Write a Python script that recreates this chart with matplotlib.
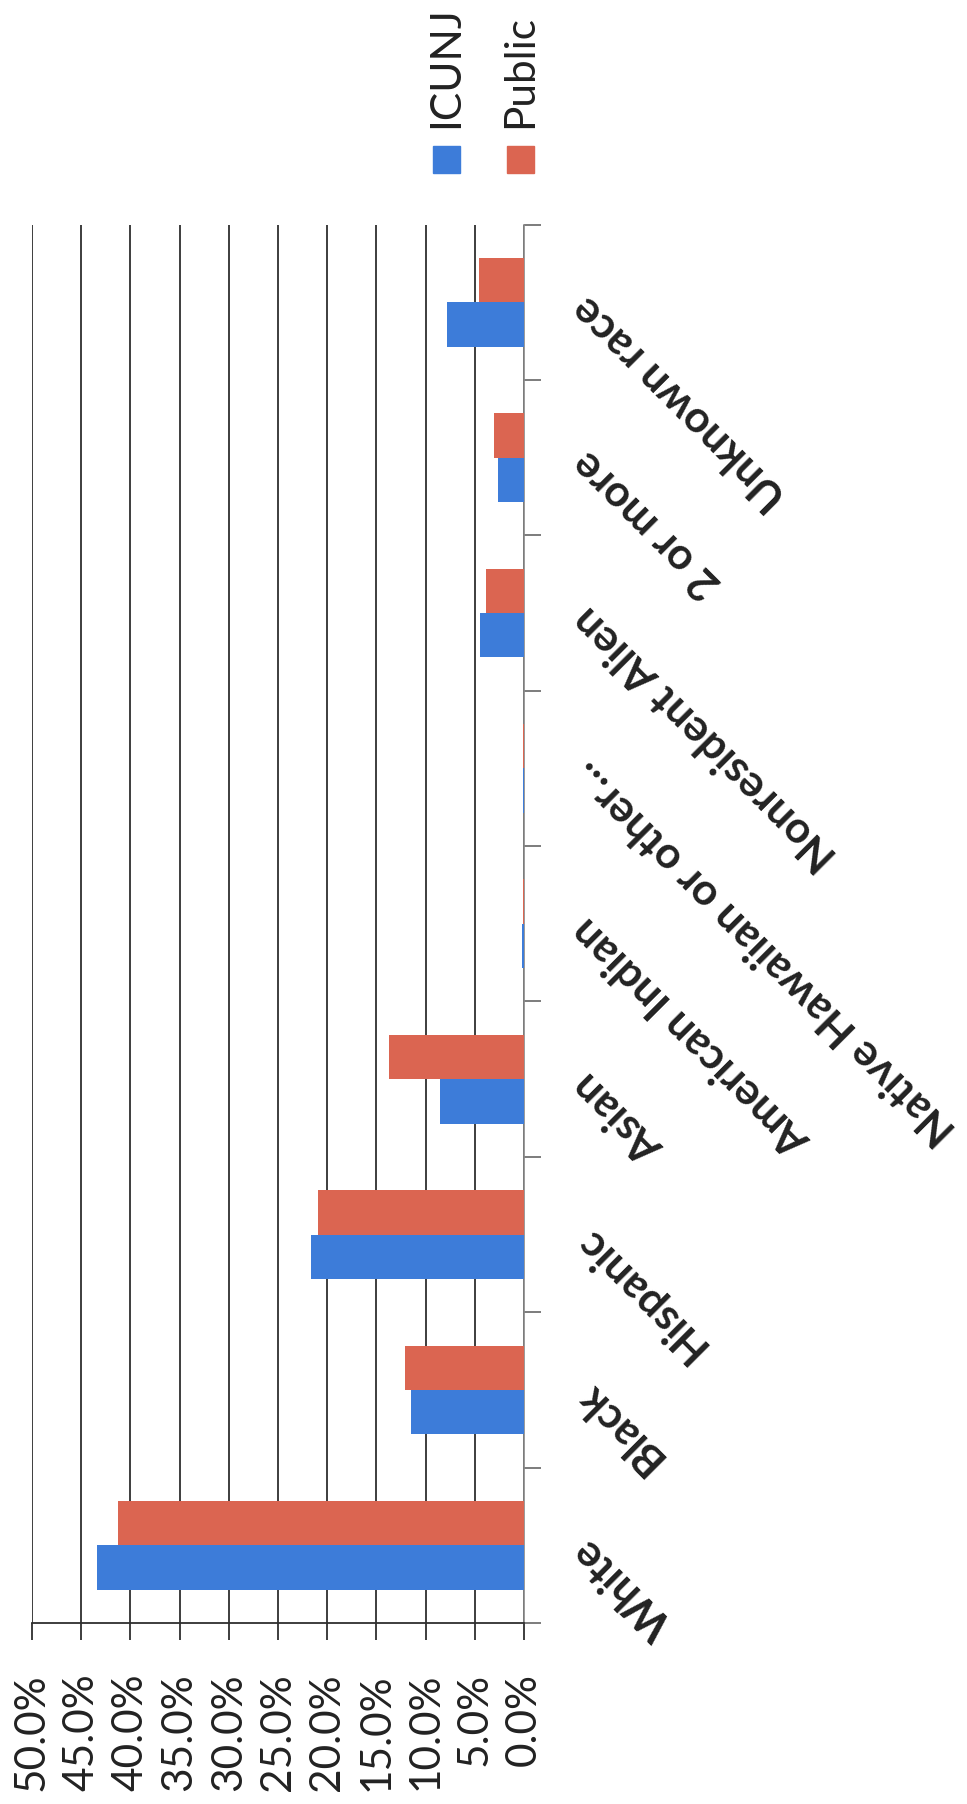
import numpy as np
import matplotlib
matplotlib.use("Agg")
import matplotlib.pyplot as plt
from matplotlib.patches import Rectangle

plt.rcParams["font.family"] = ["Lato", "DejaVu Sans"]

# Enrollment share by race/ethnicity, ICUNJ institutions vs. public institutions
categories = ["White", "Black", "Hispanic", "Asian", "American Indian",
              "Native Hawaiian or other...", "Nonresident Alien", "2 or more",
              "Unknown race"]
icunj = [43.4, 11.5, 21.6, 8.5, 0.2, 0.1, 4.5, 2.6, 7.8]
public = [41.3, 12.1, 20.9, 13.7, 0.1, 0.1, 3.9, 3.0, 4.6]
series_names = ["ICUNJ", "Public"]
series_colors = ["#3D7CD9", "#DB6551"]
value_ticks = [0, 5, 10, 15, 20, 25, 30, 35, 40, 45, 50]
value_labels = [f"{v:.1f}%" for v in value_ticks]

W, H = 967, 1804
fig = plt.figure(figsize=(W / 100, H / 100), dpi=100)


def fx(px):
    return px / W


def fy(py):
    return 1 - py / H


text_color = "#222222"
grid_color = "#2E2E2E"

# Page is laid out sideways: value axis runs right-to-left, categories bottom-to-top
ax = fig.add_axes([fx(32), fy(1623), fx(524) - fx(32), fy(224.5) - fy(1623)])
y = np.arange(len(categories))
h = 1 / 3.5
ax.barh(y - h / 2, icunj, height=h, color=series_colors[0], label=series_names[0], zorder=3)
ax.barh(y + h / 2, public, height=h, color=series_colors[1], label=series_names[1], zorder=3)

ax.set_xlim(50, 0)
ax.set_ylim(-0.5, len(categories) - 0.5)

ax.set_xticks(value_ticks)
ax.set_xticklabels(value_labels, rotation=90, fontsize=30.5, color=text_color)
ax.tick_params(axis="x", length=12, width=1.3, color=grid_color, pad=24)
ax.grid(axis="x", color=grid_color, lw=1.3, zorder=0)
ax.set_axisbelow(True)

ax.yaxis.tick_right()
ax.set_yticks(y)
ax.set_yticklabels(categories, rotation=135, rotation_mode="anchor",
                   ha="right", va="center", fontsize=31.5, fontweight="bold",
                   color=text_color)
ax.set_yticks(np.arange(-0.5, len(categories)), minor=True)
ax.tick_params(axis="y", which="major", length=0, pad=40)
ax.tick_params(axis="y", which="minor", length=12, width=1.2, color="#666666",
               right=True, left=False)

for side in ("top", "left"):
    ax.spines[side].set_visible(False)
ax.spines["bottom"].set_color(grid_color)
ax.spines["bottom"].set_linewidth(1.3)
ax.spines["right"].set_color("#888888")
ax.spines["right"].set_linewidth(1.2)

# Legend entries, turned with the page
legend_x = [433, 507]
for name, color, x0 in zip(series_names, series_colors, legend_x):
    fig.add_artist(Rectangle((fx(x0), fy(173)), 27 / W, 27 / H,
                             transform=fig.transFigure, color=color))
    fig.text(fx(x0 + 13), fy(128), name, rotation=90, ha="center", va="bottom",
             fontsize=30.5, color=text_color)

fig.savefig("out.png", dpi=100, facecolor="white")
